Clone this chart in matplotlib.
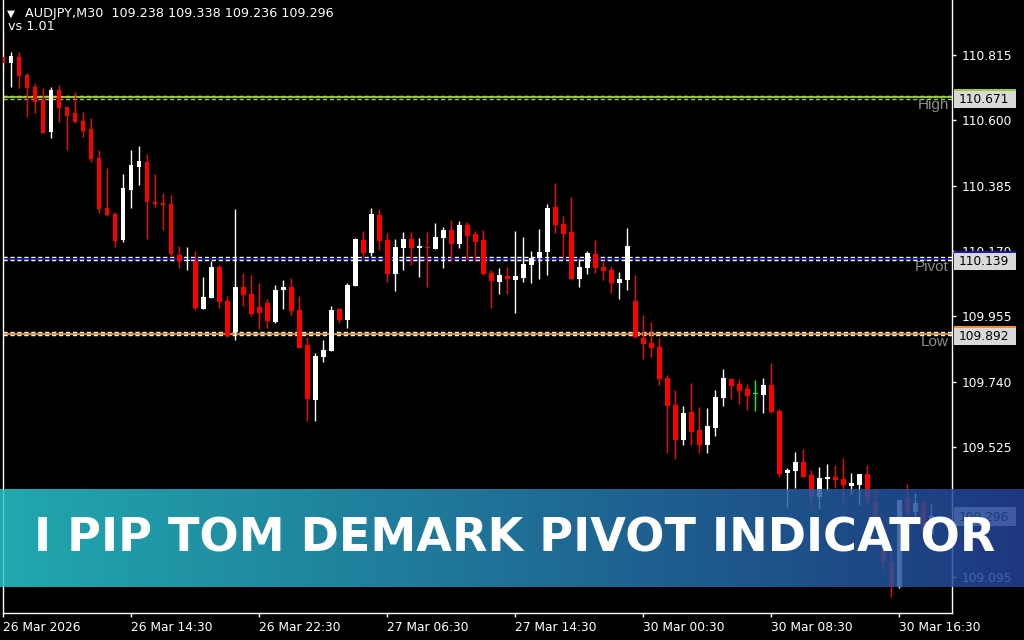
import numpy as np
import matplotlib.pyplot as plt
from matplotlib.patches import Rectangle
from matplotlib.transforms import blended_transform_factory

symbol = 'AUDJPY,M30'
version = 'vs 1.01'

# OHLC of the 117 M30 bars
opens = [110.809, 110.788, 110.809, 110.749, 110.710, 110.667, 110.562, 110.700, 110.644, 110.624,
         110.598, 110.571, 110.476, 110.311, 110.292, 110.206, 110.370, 110.447, 110.463, 110.331,
         110.328, 110.324, 110.156, 110.137, 110.137, 109.979, 110.016, 110.117, 110.005, 109.904,
         110.051, 110.028, 109.985, 109.998, 109.937, 110.041, 110.051, 109.975, 109.860, 109.679,
         109.822, 109.841, 109.979, 109.942, 110.054, 110.206, 110.163, 110.288, 110.206, 110.094,
         110.180, 110.209, 110.180, 110.183, 110.176, 110.212, 110.239, 110.193, 110.255, 110.226,
         110.206, 110.097, 110.068, 110.087, 110.074, 110.081, 110.124, 110.147, 110.166, 110.315,
         110.259, 110.232, 110.077, 110.114, 110.160, 110.117, 110.107, 110.064, 110.074, 110.005,
         109.883, 109.867, 109.854, 109.751, 109.663, 109.547, 109.640, 109.580, 109.531, 109.587,
         109.686, 109.748, 109.732, 109.715, 109.699, 109.695, 109.728, 109.643, 109.439, 109.445,
         109.475, 109.432, 109.360, 109.419, 109.426, 109.419, 109.396, 109.399, 109.435, 109.346,
         109.251, 109.146, 109.063, 109.356, 109.310, 109.340, 109.238]
highs = [110.892, 110.826, 110.825, 110.755, 110.724, 110.707, 110.711, 110.716, 110.644, 110.694,
         110.628, 110.607, 110.502, 110.444, 110.297, 110.423, 110.502, 110.515, 110.489, 110.423,
         110.361, 110.354, 110.186, 110.184, 110.170, 110.084, 110.137, 110.124, 110.022, 110.308,
         110.096, 110.090, 110.064, 110.012, 110.058, 110.074, 110.081, 110.022, 109.886, 109.834,
         109.877, 109.989, 109.979, 110.064, 110.213, 110.236, 110.311, 110.308, 110.229, 110.209,
         110.232, 110.232, 110.213, 110.232, 110.262, 110.249, 110.272, 110.268, 110.265, 110.236,
         110.239, 110.107, 110.114, 110.117, 110.236, 110.216, 110.170, 110.242, 110.324, 110.394,
         110.285, 110.347, 110.143, 110.170, 110.206, 110.140, 110.120, 110.101, 110.245, 110.091,
         109.959, 109.936, 109.883, 109.761, 109.712, 109.659, 109.735, 109.656, 109.653, 109.712,
         109.781, 109.748, 109.748, 109.732, 109.745, 109.752, 109.801, 109.649, 109.455, 109.508,
         109.518, 109.449, 109.458, 109.468, 109.465, 109.488, 109.439, 109.435, 109.465, 109.386,
         109.277, 109.175, 109.350, 109.402, 109.373, 109.350, 109.338]
lows = [110.763, 110.711, 110.705, 110.612, 110.625, 110.558, 110.543, 110.595, 110.502, 110.592,
        110.546, 110.464, 110.296, 110.286, 110.184, 110.200, 110.312, 110.387, 110.209, 110.315,
        110.239, 110.151, 110.114, 110.107, 109.975, 109.979, 110.016, 109.983, 109.887, 109.877,
        109.989, 109.956, 109.913, 109.916, 109.934, 109.979, 109.959, 109.849, 109.611, 109.611,
        109.805, 109.840, 109.933, 109.916, 110.054, 110.150, 110.153, 110.173, 110.068, 110.038,
        110.107, 110.124, 110.084, 110.051, 110.176, 110.114, 110.137, 110.180, 110.140, 110.137,
        110.091, 109.982, 110.028, 110.028, 109.965, 110.068, 110.064, 110.078, 110.091, 110.229,
        110.147, 110.077, 110.051, 110.094, 110.097, 110.074, 110.031, 110.012, 110.041, 109.883,
        109.814, 109.821, 109.728, 109.505, 109.485, 109.531, 109.531, 109.505, 109.505, 109.561,
        109.659, 109.682, 109.666, 109.646, 109.643, 109.636, 109.636, 109.426, 109.327, 109.389,
        109.426, 109.317, 109.320, 109.383, 109.389, 109.337, 109.370, 109.333, 109.333, 109.268,
        109.119, 109.030, 109.060, 109.284, 109.284, 109.238, 109.236]
closes = [110.790, 110.812, 110.747, 110.707, 110.661, 110.559, 110.700, 110.642, 110.615, 110.595,
          110.566, 110.473, 110.308, 110.288, 110.203, 110.377, 110.453, 110.466, 110.332, 110.324,
          110.321, 110.161, 110.138, 110.140, 109.983, 110.018, 110.117, 110.003, 109.890, 110.051,
          110.025, 109.962, 109.965, 109.939, 110.041, 110.051, 109.972, 109.852, 109.682, 109.824,
          109.844, 109.975, 109.942, 110.058, 110.209, 110.163, 110.291, 110.203, 110.094, 110.183,
          110.209, 110.180, 110.186, 110.180, 110.216, 110.239, 110.193, 110.255, 110.219, 110.199,
          110.094, 110.071, 110.091, 110.077, 110.087, 110.127, 110.147, 110.166, 110.311, 110.255,
          110.226, 110.077, 110.117, 110.163, 110.114, 110.104, 110.064, 110.077, 110.186, 109.887,
          109.863, 109.850, 109.748, 109.659, 109.547, 109.636, 109.574, 109.531, 109.593, 109.689,
          109.752, 109.725, 109.709, 109.692, 109.699, 109.728, 109.639, 109.435, 109.449, 109.475,
          109.426, 109.360, 109.422, 109.426, 109.416, 109.399, 109.406, 109.435, 109.346, 109.281,
          109.146, 109.063, 109.350, 109.310, 109.340, 109.251, 109.296]

time_labels = ['26 Mar 2026', '26 Mar 14:30', '26 Mar 22:30', '27 Mar 06:30',
               '27 Mar 14:30', '30 Mar 00:30', '30 Mar 08:30', '30 Mar 16:30']
time_label_bars = [0, 16, 32, 48, 64, 80, 96, 112]
price_ticks = [110.815, 110.600, 110.385, 110.170, 109.955, 109.740, 109.525, 109.310, 109.095]

level_names = ['High', 'Pivot', 'Low']
level_values = [110.671, 110.139, 109.892]
level_colors = ['#9acd32', '#1a1ab0', '#ff8c1a']

banner_title = 'I PIP TOM DEMARK PIVOT INDICATOR'

W, H = 1024, 640
FONT = 'DejaVu Sans'
fig = plt.figure(figsize=(W / 100, H / 100), dpi=100, facecolor='black')
ax = fig.add_axes([2.5 / W, 27 / H, (952 - 2.5) / W, 613 / H])
ax.set_facecolor('black')
ax.set_xlim(-0.06, 118.6)
ax.set_ylim(108.978, 110.996)

o = np.array(opens)
h = np.array(highs)
l = np.array(lows)
c = np.array(closes)
idx = np.arange(len(o))
cols = np.where(c > o, 'white', np.where(c < o, '#ff0000', '#00ff00'))

# candles
ax.vlines(idx, l, h, colors=cols, linewidth=1, zorder=2)
body = np.maximum(np.abs(c - o), 0.0035)
ax.bar(idx, body, bottom=np.minimum(o, c), width=0.62, color=cols, linewidth=0, zorder=3)

# pivot levels
for name, val, col in zip(level_names, level_values, level_colors):
    ax.axhline(val + 0.010, color='white', lw=1, ls=(0, (3, 2)), zorder=1)
    ax.axhline(val + 0.005, color=col, lw=1.3, zorder=1)
    ax.axhline(val, color='white' if name != 'High' else col, lw=1, ls=(0, (3, 2)), zorder=1)
    ax.text(0.9965, val + 0.002, name, transform=blended_transform_factory(ax.transAxes, ax.transData),
            ha='right', va='top', color='#8c8c8c', fontsize=11, family='Liberation Sans')

# axes styling
ax.spines['top'].set_visible(False)
for side in ['left', 'bottom', 'right']:
    ax.spines[side].set_color('white')
    ax.spines[side].set_linewidth(1)
ax.yaxis.tick_right()
ax.set_yticks(price_ticks)
# the 109.310 label sits under the current-price box, so it is left blank
ax.set_yticklabels(['' if abs(p - closes[-1]) < 0.03 else '%.3f' % p for p in price_ticks])
ax.set_xticks(time_label_bars)
ax.set_xticklabels(time_labels, ha='left')
ax.tick_params(axis='both', colors='white', length=3, width=1, labelsize=8.8)
ax.tick_params(axis='y', pad=4)
ax.tick_params(axis='x', pad=3)
for t in ax.get_xticklabels() + ax.get_yticklabels():
    t.set_family(FONT)

# price boxes on the right scale
trans = blended_transform_factory(fig.transFigure, ax.transData)
box_h = 0.056
box_vals = level_values + [closes[-1]]
box_cols = level_colors + ['#d9d9d9']
for val, col in zip(box_vals, box_cols):
    ax.add_patch(Rectangle((954 / W, val - box_h / 2 - 0.004), 62 / W, box_h, transform=trans,
                           facecolor='#d9d9d9', edgecolor='none', clip_on=False, zorder=6))
    ax.add_patch(Rectangle((954 / W, val + box_h / 2 - 0.004), 62 / W, 0.007, transform=trans,
                           facecolor=col, edgecolor='none', clip_on=False, zorder=6))
    ax.text(958.5 / W, val - 0.004, '%.3f' % val, transform=trans, ha='left', va='center',
            color='black', fontsize=8.8, family=FONT, clip_on=False, zorder=7)

# header
fig.text(7 / W, 1 - 14 / H, '\u25bc', color='white', fontsize=7.5, family=FONT, va='center')
fig.text(25 / W, 1 - 14 / H, '%s  %.3f %.3f %.3f %.3f' % (symbol, opens[-1], highs[-1], lows[-1], closes[-1]),
         color='white', fontsize=9.2, family=FONT, va='center')
fig.text(8 / W, 1 - 27 / H, version, color='white', fontsize=9.2, family=FONT, va='center')

# banner with gradient
axb = fig.add_axes([0, (H - 587) / H, 1, 98 / H])
axb.set_zorder(10)
left_col = np.array([39, 200, 206]) / 255
right_col = np.array([35, 66, 151]) / 255
t = np.linspace(0, 1, 512)[None, :, None]
grad = left_col * (1 - t) + right_col * t
axb.imshow(grad, aspect='auto', extent=[0, 1, 0, 1], alpha=0.85, interpolation='bilinear')
axb.set_xlim(0, 1)
axb.set_ylim(0, 1)
axb.axis('off')
fig.text(515 / W, 1 - 552 / H, banner_title, ha='center', va='baseline', color='white',
         fontsize=33.2, weight='bold', family=FONT, zorder=20)

fig.savefig('out.png', dpi=100, facecolor='black')
